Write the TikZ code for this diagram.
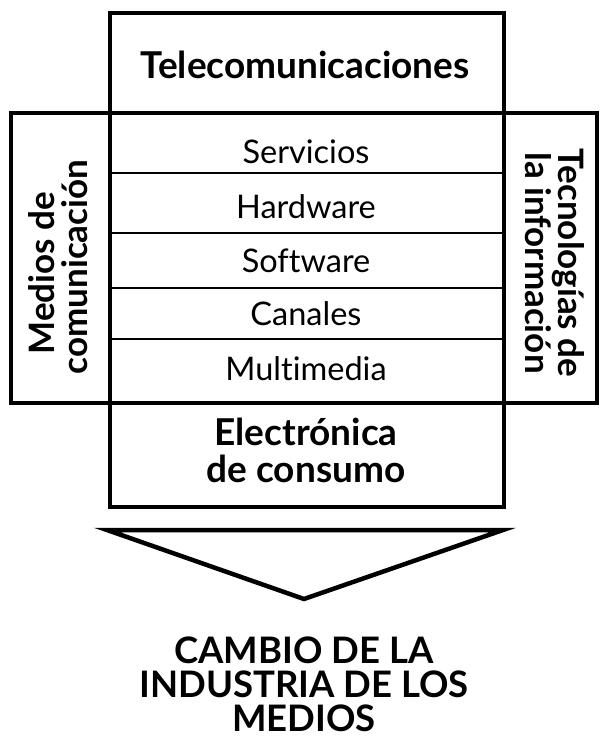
\documentclass[tikz,border=0pt]{standalone}
\usepackage{fontspec}
\setmainfont{Lato}[Ligatures=CommonOff]
\begin{document}
\begin{tikzpicture}[x=1pt,y=-1pt,
  frame/.style={draw, line width=4.5pt, inner sep=0pt},
  rowline/.style={line width=2.2pt},
  boldtxt/.style={font=\bfseries\fontsize{37}{37}\selectfont, anchor=base, inner sep=0pt},
  rowtxt/.style={font=\fontsize{32.5}{33}\selectfont, anchor=base, inner sep=0pt},
  sidetxt/.style={font=\bfseries\fontsize{35}{33}\selectfont, anchor=base, inner sep=0pt},
  endtxt/.style={font=\bfseries\fontsize{36.5}{36}\selectfont, anchor=base, inner sep=0pt}]
\useasboundingbox (0,0) rectangle (601,739);
% frames
\node[frame, minimum width=394pt, minimum height=100pt] (tele) at (307,63) {};
\node[frame, minimum width=99pt, minimum height=290pt] (medios) at (60.5,258) {};
\node[frame, minimum width=93pt, minimum height=290pt] (tecno) at (550.5,258) {};
\node[frame, minimum width=394pt, minimum height=290pt] (mid) at (307,258) {};
\node[frame, minimum width=394pt, minimum height=104pt] (elec) at (307,455) {};
% box texts
\node[boldtxt] (teletxt) at (305,78) {Telecomunicaciones};
\node[boldtxt] (electxt1) at (306,445) {Electrónica};
\node[boldtxt] (electxt2) at (306,482) {de consumo};
% side labels
\node[sidetxt, rotate=90] (medtxt1) at (54,273) {Medios de};
\node[sidetxt, rotate=90] (medtxt2) at (87,267) {comunicación};
\node[sidetxt, rotate=-90] (tectxt1) at (558,263) {Tecnologías de};
\node[sidetxt, rotate=-90] (tectxt2) at (525,263) {la información};
% rows
\draw[rowline] (110,173) -- (504,173);
\draw[rowline] (110,233) -- (504,233);
\draw[rowline] (110,288) -- (504,288);
\draw[rowline] (110,339) -- (504,339);
\node[rowtxt] (serv) at (306,163) {Servicios};
\node[rowtxt] (hard) at (306,218) {Hardware};
\node[rowtxt] (soft) at (306,272) {Software};
\node[rowtxt] (can) at (306,325) {Canales};
\node[rowtxt] (multi) at (306,380) {Multimedia};
% arrow
\coordinate (tl) at (107,530);
\coordinate (tr) at (503,530);
\coordinate (tip) at (304,599);
\draw[line width=4.5pt, line join=miter] (tl) -- (tr) -- (tip) -- cycle;
% result
\node[endtxt] (res1) at (304,663) {CAMBIO DE LA};
\node[endtxt] (res2) at (304,697) {INDUSTRIA DE LOS};
\node[endtxt] (res3) at (304,731) {MEDIOS};
\end{tikzpicture}
\end{document}
